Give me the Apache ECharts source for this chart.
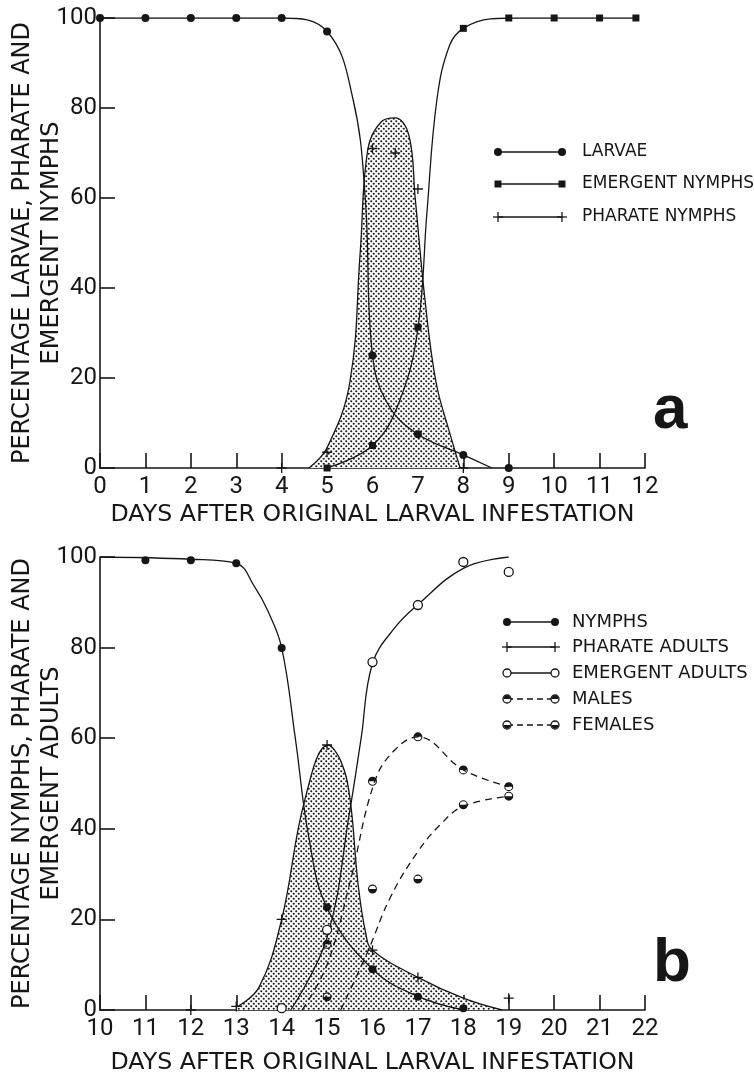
<!DOCTYPE html>
<html><head><meta charset="utf-8">
<script src="https://cdn.jsdelivr.net/npm/echarts@6/dist/echarts.min.js"></script>
<style>html,body{margin:0;padding:0;background:#fff}#c{width:754px;height:1075px}</style>
</head><body><div id="c"></div>
<script>
// ---------- Panel a : days 0-12 ----------
const xTicksA = [0,1,2,3,4,5,6,7,8,9,10,11,12];
const larvaeDays = [0,1,2,3,4,5,6,7,8,9];
const larvae = [100,100,100,100,100,97,25,7.5,2.9,0];
const emNymphDays = [5,6,7,8,9,10,11,11.8];
const emNymphs = [0,5,31.3,97.7,100,100,100,100];
const phNymphDays = [4,5,6,6.5,7,8];
const phNymphs = [0,3.5,71,70,62,0];
// fitted curves
const larvaeCurveX = [0,4,5,5.57,5.84,6,6.35,7,8,8.63];
const larvaeCurveY = [100,100,97,82,60,25,14,7.5,2.9,0];
const emNymphCurveX = [5,6,6.6,7,7.2,7.42,7.7,8,8.6,9.2,11.8];
const emNymphCurveY = [0,5,15,31,57,82,94,97.7,99.8,100,100];
const phNymphEnvX = [4.6,5,5.5,5.73,5.9,6.2,6.5,6.8,6.94,7.16,7.4,7.7,7.93];
const phNymphEnvY = [0,4.5,19,48,71,77,77.8,74,60,37,19,7.8,0];

// ---------- Panel b : days 10-22 ----------
const nymphDays = [11,12,13,14,15,16,17,18];
const nymphs = [99.3,99.3,98.6,79.9,22.7,9.0,2.9,0.4];
const phAdultDays = [12,13,14,15,16,17,19];
const phAdults = [0,0.8,20,58.5,13.2,7.2,2.6];
const emAdultDays = [14,15,16,17,18,19];
const emAdults = [0.4,17.7,76.8,89.4,98.9,96.7];
const maleDays = [15,16,17,18,19];
const males = [14.5,50.5,60.3,53,49.3];
const femaleDays = [15,16,17,18,19];
const females = [2.9,26.7,28.9,45.3,47.2];
// fitted curves
const nymphCurveX = [10,12,13,13.4,13.7,14,14.3,14.6,15,16,17,18];
const nymphCurveY = [100,99.5,98.6,93.5,88,80,60,38,22.5,9,3,0];
const phAdultEnvX = [13,13.5,14,14.5,15.02,15.3,15.5,15.68,15.85,16,17,18,18.85];
const phAdultEnvY = [0.6,5,20,46,58.5,55,47,28,17,13.2,7.2,2.6,0];
const emAdultCurveX = [14.2,15,15.5,15.75,16,16.5,17,18,19];
const emAdultCurveY = [0,16,44,60,76.5,84.5,89.5,97.5,100];
const maleCurveX = [14.45,15,15.5,16.05,16.5,17,18,19];
const maleCurveY = [0,10,28,50.5,57.5,60.3,53,49.3];
const femaleCurveX = [15.3,15.9,16.4,17,17.5,18,19];
const femaleCurveY = [0,13,25,35,41,45,47.2];

const yTicks = [0,20,40,60,80,100];

// ---------- helpers ----------
const pts = (xs, ys) => xs.map((x, i) => [x, ys[i]]);
const INK = '#161616';
const TICKFONT = 'Roboto, "DejaVu Sans Condensed", sans-serif';
const TITLEFONT = '"DejaVu Sans", sans-serif';

const dotCanvas = (() => {
  const c = document.createElement('canvas'); c.width = 5; c.height = 5;
  const g = c.getContext('2d');
  g.fillStyle = '#fff'; g.fillRect(0, 0, 5, 5);
  g.fillStyle = '#1a1a1a';
  [[1.25,1.25],[3.75,3.75]].forEach(p => { g.beginPath(); g.arc(p[0], p[1], 1.05, 0, Math.PI*2); g.fill(); });
  return c;
})();

const PLUS = 'path://M0,4.35L10,4.35L10,5.65L0,5.65Z M4.35,0L5.65,0L5.65,10L4.35,10Z';
const HALF_TOP = 'path://M0,-10A10,10 0 1,1 0,10A10,10 0 1,1 0,-10Z M0,-7.6A7.6,7.6 0 1,0 0,7.6A7.6,7.6 0 1,0 0,-7.6Z M-7.6,0A7.6,7.6 0 0,1 7.6,0Z';
const HALF_BOT = 'path://M0,-10A10,10 0 1,1 0,10A10,10 0 1,1 0,-10Z M0,-7.6A7.6,7.6 0 1,0 0,7.6A7.6,7.6 0 1,0 0,-7.6Z M7.6,0A7.6,7.6 0 0,1 -7.6,0Z';

function curve(idx, xs, ys, dashed, z) {
  return { type: 'line', xAxisIndex: idx, yAxisIndex: idx, data: pts(xs, ys), smooth: 0.4,
    symbol: 'none', silent: true, z: z || 3,
    lineStyle: { color: INK, width: 1.3, type: dashed ? [7, 5] : 'solid' } };
}
function envelope(idx, xs, ys) {
  return { type: 'line', xAxisIndex: idx, yAxisIndex: idx, data: pts(xs, ys), smooth: 0.4,
    symbol: 'none', silent: true, z: 1,
    lineStyle: { color: INK, width: 1.3 },
    areaStyle: { color: { image: dotCanvas, repeat: 'repeat' }, opacity: 1 } };
}
function points(idx, xs, ys, symbol, size, fill) {
  return { type: 'scatter', xAxisIndex: idx, yAxisIndex: idx, data: pts(xs, ys), symbol: symbol,
    symbolSize: size, symbolKeepAspect: true, silent: true, z: 6,
    itemStyle: { color: fill || INK, borderColor: INK, borderWidth: fill ? 1.3 : 0, opacity: 1 } };
}

function xAxis(idx, min, max, gap, margin) {
  return { type: 'value', gridIndex: idx, min: min, max: max, interval: 1,
    name: 'DAYS AFTER ORIGINAL LARVAL INFESTATION', nameLocation: 'middle', nameGap: gap,
    nameMoveOverlap: false,
    nameTextStyle: { fontFamily: TITLEFONT, fontSize: 23.7, color: INK },
    axisLine: { show: true, onZero: false, lineStyle: { color: INK, width: 1.6 } },
    axisTick: { show: true, inside: true, length: 15, lineStyle: { color: INK, width: 1.6 } },
    axisLabel: { fontFamily: TICKFONT, fontSize: 24, color: INK, margin: margin },
    splitLine: { show: false } };
}
function yAxis(idx, name) {
  return { type: 'value', gridIndex: idx, min: yTicks[0], max: yTicks[yTicks.length - 1], interval: 20,
    name: name, nameLocation: 'middle', nameRotate: 90, nameGap: 34, nameMoveOverlap: false,
    nameTextStyle: { fontFamily: TITLEFONT, fontSize: 24, lineHeight: 29, color: INK },
    axisLine: { show: true, onZero: false, lineStyle: { color: INK, width: 1.6 } },
    axisTick: { show: true, inside: true, length: 15, lineStyle: { color: INK, width: 1.6 } },
    axisLabel: { fontFamily: TICKFONT, fontSize: 24, color: INK, margin: 3 },
    splitLine: { show: false } };
}

// ---------- legend (drawn with graphic elements) ----------
function legendSym(kind, cx, cy) {
  const r = 4;
  switch (kind) {
    case 'dot': return [{ type: 'circle', shape: { cx, cy, r }, style: { fill: INK } }];
    case 'square': return [{ type: 'rect', shape: { x: cx - 3.5, y: cy - 3.5, width: 7, height: 7 }, style: { fill: INK } }];
    case 'plus': return [
      { type: 'line', shape: { x1: cx - 5, y1: cy, x2: cx + 5, y2: cy }, style: { stroke: INK, lineWidth: 1.3 } },
      { type: 'line', shape: { x1: cx, y1: cy - 5, x2: cx, y2: cy + 5 }, style: { stroke: INK, lineWidth: 1.3 } }];
    case 'open': return [{ type: 'circle', shape: { cx, cy, r }, style: { fill: '#fff', stroke: INK, lineWidth: 1.3 } }];
    case 'halfTop': case 'halfBot': return [
      { type: 'circle', shape: { cx, cy, r }, style: { fill: '#fff', stroke: INK, lineWidth: 1.3 } },
      { type: 'sector', shape: { cx, cy, r: 3.4, r0: 0,
          startAngle: kind === 'halfTop' ? Math.PI : 0, endAngle: kind === 'halfTop' ? Math.PI * 2 : Math.PI },
        style: { fill: INK } }];
  }
  return [];
}
function legendRow(y, x1, x2, tx, label, kind, dashed, fs) {
  const els = [{ type: 'line', shape: { x1, y1: y, x2, y2: y },
    style: { stroke: INK, lineWidth: 1.3, lineDash: dashed ? [6, 4] : null } }];
  els.push(...legendSym(kind, x1, y), ...legendSym(kind, x2, y));
  els.push({ type: 'text', style: { text: label, x: tx, y: y, fill: INK,
    font: fs + 'px "DejaVu Sans", sans-serif', align: 'left', verticalAlign: 'middle' } });
  return els;
}

const legendA = [
  ['LARVAE', 'dot', false, 152],
  ['EMERGENT NYMPHS', 'square', false, 184],
  ['PHARATE NYMPHS', 'plus', false, 217]
];
const legendB = [
  ['NYMPHS', 'dot', false, 622],
  ['PHARATE ADULTS', 'plus', false, 647],
  ['EMERGENT ADULTS', 'open', false, 673],
  ['MALES', 'halfTop', true, 699],
  ['FEMALES', 'halfBot', true, 725]
];

const graphics = [];
legendA.forEach(r => graphics.push(...legendRow(r[3], 498, 562, 582, r[0], r[1], r[2], 17)));
legendB.forEach(r => graphics.push(...legendRow(r[3], 507, 555, 572, r[0], r[1], r[2], 18)));
graphics.push({ type: 'text', style: { text: 'a', x: 653, y: 411, fill: INK,
  font: 'bold 62px "Liberation Sans", Arial, sans-serif', align: 'left', verticalAlign: 'middle' } });
graphics.push({ type: 'text', style: { text: 'b', x: 653, y: 964, fill: INK,
  font: 'bold 62px "Liberation Sans", Arial, sans-serif', align: 'left', verticalAlign: 'middle' } });

const chart = echarts.init(document.getElementById('c'), null, { renderer: 'canvas' });
chart.setOption({
  animation: false,
  backgroundColor: '#fff',
  grid: [
    { left: 100, top: 18, width: 545, height: 450, containLabel: false, outerBoundsMode: 'none' },
    { left: 100, top: 557, width: 545, height: 453, containLabel: false, outerBoundsMode: 'none' }
  ],
  xAxis: [xAxis(0, xTicksA[0], xTicksA[xTicksA.length - 1], 35, 7), xAxis(1, 10, 22, 41, 7)],
  yAxis: [yAxis(0, 'PERCENTAGE LARVAE, PHARATE AND\nEMERGENT NYMPHS'),
          yAxis(1, 'PERCENTAGE NYMPHS, PHARATE AND\nEMERGENT ADULTS')],
  series: [
    envelope(0, phNymphEnvX, phNymphEnvY),
    curve(0, larvaeCurveX, larvaeCurveY),
    curve(0, emNymphCurveX, emNymphCurveY),
    points(0, larvaeDays, larvae, 'circle', 8),
    points(0, emNymphDays, emNymphs, 'rect', 7),
    points(0, phNymphDays, phNymphs, PLUS, 10),

    envelope(1, phAdultEnvX, phAdultEnvY),
    curve(1, nymphCurveX, nymphCurveY),
    curve(1, emAdultCurveX, emAdultCurveY),
    curve(1, maleCurveX, maleCurveY, true),
    curve(1, femaleCurveX, femaleCurveY, true),
    points(1, nymphDays, nymphs, 'circle', 8),
    points(1, phAdultDays, phAdults, PLUS, 10),
    points(1, emAdultDays, emAdults, 'circle', 9, '#fff'),
    points(1, maleDays, males, HALF_TOP, 9),
    points(1, femaleDays, females, HALF_BOT, 9)
  ],
  graphic: { elements: graphics }
});
</script>
</body></html>
